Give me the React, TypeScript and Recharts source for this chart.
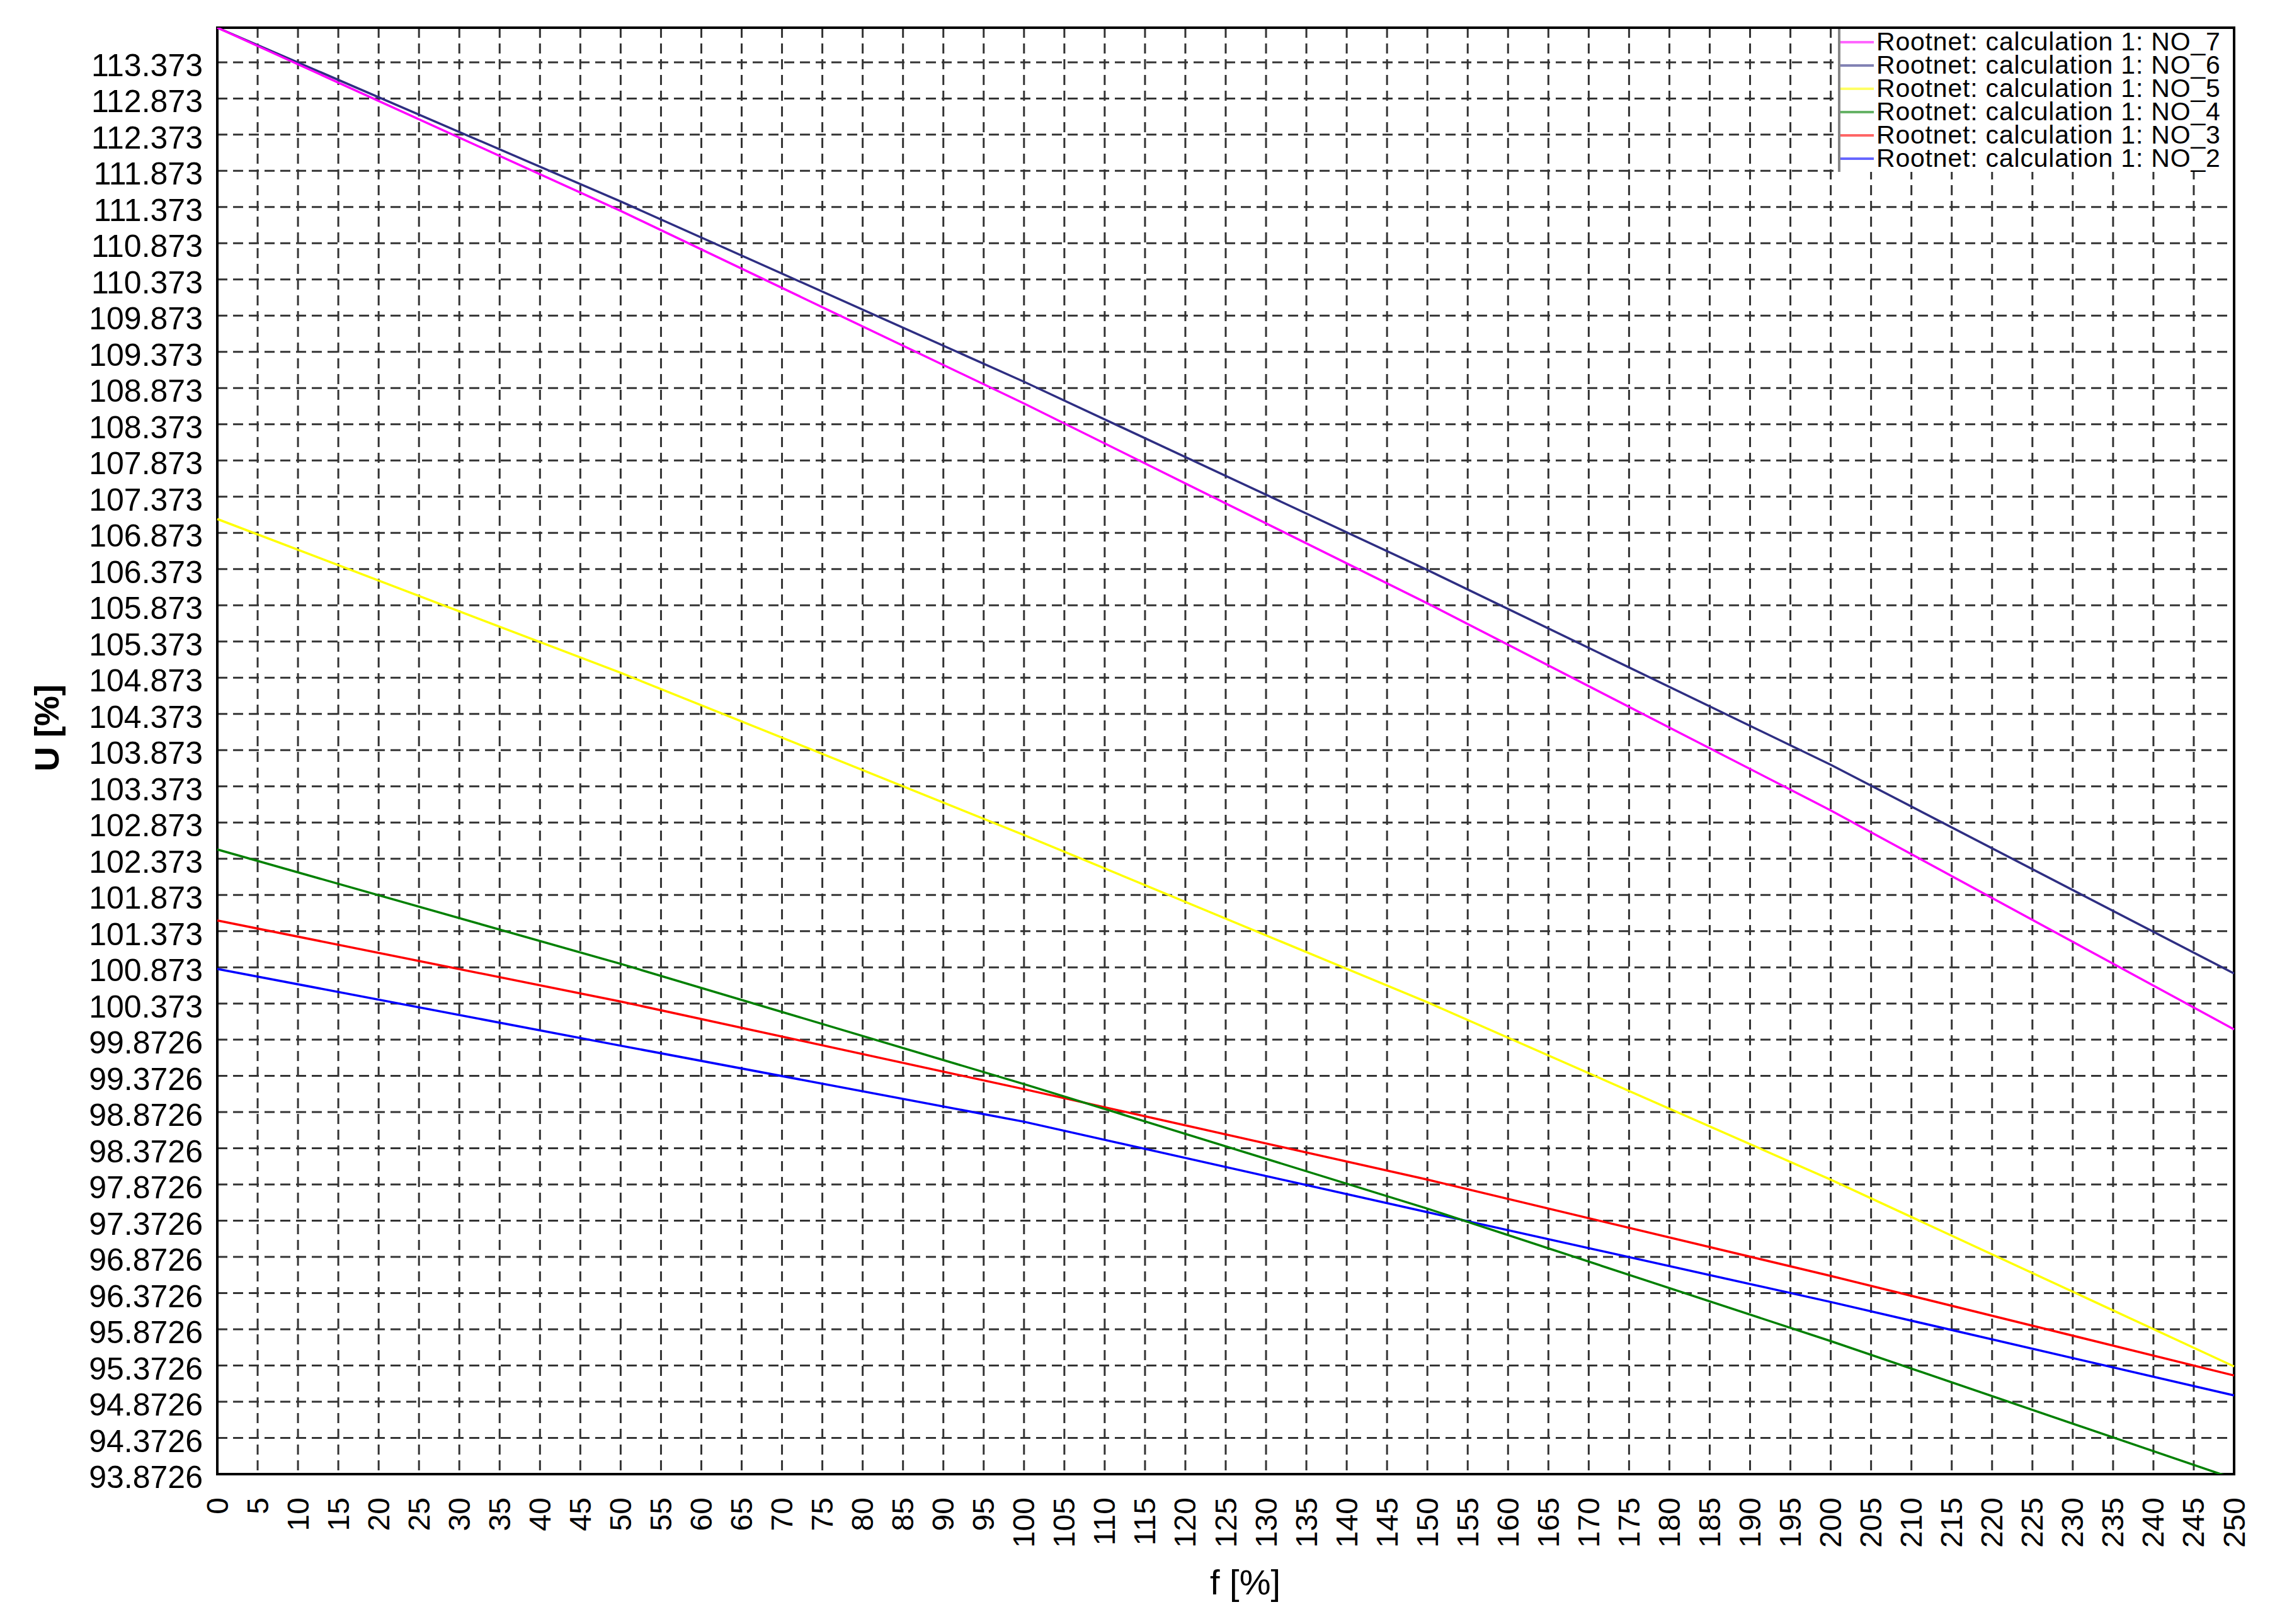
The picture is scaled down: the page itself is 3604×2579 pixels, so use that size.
import React from "react";
import {
  LineChart,
  Line,
  XAxis,
  YAxis,
  CartesianGrid,
  ReferenceArea,
  Label,
} from "recharts";

// f [%] sample points
const fPercent = [0, 50, 100, 150, 200, 250];

// U [%] per node
const no7 = [113.85, 111.32, 108.66, 105.9, 103.04, 100.015];
const no6 = [113.85, 111.45, 108.96, 106.36, 103.67, 100.787];
const no5 = [107.064, 104.94, 102.7, 100.39, 97.94, 95.36];
const no4 = [102.5, 100.92, 99.26, 97.54, 95.71, 93.81];
const no3 = [101.52, 100.4, 99.19, 97.94, 96.61, 95.235];
const no2 = [100.85, 99.79, 98.74, 97.49, 96.25, 94.96];

const seriesKeys = ["NO_7", "NO_6", "NO_5", "NO_4", "NO_3", "NO_2"];
const seriesNames = [
  "Rootnet: calculation 1: NO_7",
  "Rootnet: calculation 1: NO_6",
  "Rootnet: calculation 1: NO_5",
  "Rootnet: calculation 1: NO_4",
  "Rootnet: calculation 1: NO_3",
  "Rootnet: calculation 1: NO_2",
];
const seriesColors = ["#ff00ff", "#2e2e82", "#ffff00", "#008000", "#ff0000", "#0000ff"];
const seriesValues = [no7, no6, no5, no4, no3, no2];

const xTicks = [
  0, 5, 10, 15, 20, 25, 30, 35, 40, 45, 50, 55, 60, 65, 70, 75, 80, 85, 90, 95,
  100, 105, 110, 115, 120, 125, 130, 135, 140, 145, 150, 155, 160, 165, 170, 175,
  180, 185, 190, 195, 200, 205, 210, 215, 220, 225, 230, 235, 240, 245, 250,
];

const yTicks = [
  93.8726, 94.3726, 94.8726, 95.3726, 95.8726, 96.3726, 96.8726, 97.3726,
  97.8726, 98.3726, 98.8726, 99.3726, 99.8726, 100.3726, 100.8726, 101.3726,
  101.8726, 102.3726, 102.8726, 103.3726, 103.8726, 104.3726, 104.8726,
  105.3726, 105.8726, 106.3726, 106.8726, 107.3726, 107.8726, 108.3726,
  108.8726, 109.3726, 109.8726, 110.3726, 110.8726, 111.3726, 111.8726,
  112.3726, 112.8726, 113.3726,
];

const Y_MIN = 93.8726;
const Y_MAX = 113.85;
const FONT = "'Liberation Sans', Arial, sans-serif";

const data = fPercent.map((f, i) => {
  const row: Record<string, number> = { f };
  seriesKeys.forEach((k, s) => {
    row[k] = seriesValues[s][i];
  });
  return row;
});

const XTick = ({ x, y, payload }: any) => (
  <text
    x={x}
    y={y + 37}
    transform={`rotate(-90 ${x} ${y + 37})`}
    textAnchor="end"
    dominantBaseline="central"
    fontFamily={FONT}
    fontSize={48}
    fill="#000"
  >
    {payload.value}
  </text>
);

const YTick = ({ x, y, payload }: any) => (
  <text
    x={x - 23}
    y={y + 5}
    textAnchor="end"
    dominantBaseline="central"
    fontFamily={FONT}
    fontSize={50}
    fill="#000"
  >
    {Number(payload.value).toPrecision(6)}
  </text>
);

// legend sits over the top right corner of the plot, like the original tool draws it
const LegendBox = () => (
  <div
    style={{
      position: "absolute",
      left: 2918,
      top: 46,
      width: 627,
      height: 227,
      background: "#fff",
      borderLeft: "4px solid #888",
      fontFamily: FONT,
      fontSize: 41,
      letterSpacing: 0.8,
      color: "#000",
      paddingTop: 2,
      boxSizing: "border-box",
    }}
  >
    {seriesNames.map((name, i) => (
      <div key={name} style={{ display: "flex", alignItems: "center", height: 37 }}>
        <span
          style={{
            display: "inline-block",
            width: 53,
            height: 4,
            background: seriesColors[i],
            opacity: 0.6,
            marginRight: 4,
          }}
        />
        <span
          style={{
            display: "inline-block",
            whiteSpace: "nowrap",
            height: 35,
            lineHeight: "35px",
            overflow: "visible",
          }}
        >
          {name}
        </span>
      </div>
    ))}
  </div>
);

export default function App() {
  return (
    <div style={{ position: "relative", width: 3604, height: 2579, background: "#fff" }}>
      <style>{"body{margin:0}"}</style>
      <LineChart
        width={3604}
        height={2579}
        data={data}
        margin={{ top: 44, right: 57, bottom: 0, left: 0 }}
      >
        <CartesianGrid stroke="#333" strokeWidth={3} strokeDasharray="16 9" />
        <XAxis
          dataKey="f"
          type="number"
          domain={[0, 250]}
          ticks={xTicks}
          interval={0}
          height={238}
          tickSize={0}
          tickMargin={0}
          axisLine={false}
          tickLine={false}
          tick={<XTick />}
        >
          <Label
            content={() => (
              <text
                x={1977}
                y={2512}
                textAnchor="middle"
                dominantBaseline="central"
                fontFamily={FONT}
                fontSize={56}
                fill="#000"
              >
                f [%]
              </text>
            )}
          />
        </XAxis>
        <YAxis
          type="number"
          domain={[Y_MIN, Y_MAX]}
          allowDataOverflow
          ticks={yTicks}
          interval={0}
          width={345}
          tickSize={0}
          tickMargin={0}
          axisLine={false}
          tickLine={false}
          tick={<YTick />}
        >
          <Label
            content={() => (
              <text
                x={74}
                y={1156}
                transform="rotate(-90 74 1156)"
                textAnchor="middle"
                dominantBaseline="central"
                fontFamily={FONT}
                fontSize={54}
                fontWeight="bold"
                fill="#000"
              >
                U [%]
              </text>
            )}
          />
        </YAxis>
        {seriesKeys
          .slice()
          .reverse()
          .map((k) => {
            const i = seriesKeys.indexOf(k);
            return (
              <Line
                key={k}
                type="linear"
                dataKey={k}
                name={seriesNames[i]}
                stroke={seriesColors[i]}
                strokeWidth={3.5}
                dot={false}
                activeDot={false}
                isAnimationActive={false}
              />
            );
          })}
        <ReferenceArea
          x1={0}
          x2={250}
          y1={Y_MIN}
          y2={Y_MAX}
          fill="none"
          stroke="#000"
          strokeWidth={4}
        />
      </LineChart>
      <LegendBox />
    </div>
  );
}
